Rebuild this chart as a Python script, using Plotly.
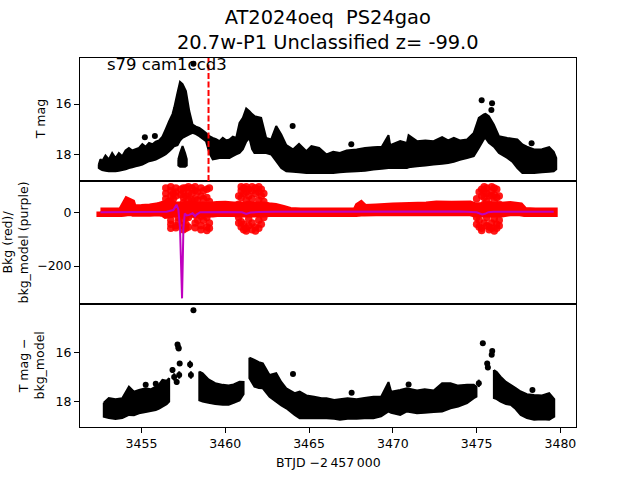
import plotly.graph_objects as go
from plotly.subplots import make_subplots

# ---------------- data ----------------
t_disc = 3459.0  # discovery epoch (red dashed line)

# top panel: T mag light curve envelope (bright edge / faint edge)
t_top = [3452.45, 3452.55, 3452.65, 3452.85, 3453.05, 3453.25, 3453.45, 3453.65, 3453.85, 3454.05,
         3454.25, 3454.45, 3454.65, 3454.85, 3455.05, 3455.25, 3455.45, 3455.65, 3455.85, 3456.05,
         3456.25, 3456.45, 3456.65, 3456.85, 3456.95, 3457.15, 3457.30, 3457.45, 3457.65, 3457.85,
         3458.05, 3458.25, 3458.45, 3458.65, 3458.85, 3459.05, 3459.25, 3459.45, 3459.65, 3459.85,
         3460.05, 3460.25, 3460.45, 3460.65, 3460.85, 3461.05, 3461.25, 3461.44, 3461.60, 3461.74,
         3462.14, 3462.44, 3462.74, 3463.04, 3463.34, 3463.64, 3464.04, 3464.40, 3464.84, 3465.14,
         3465.60, 3466.04, 3466.44, 3466.84, 3467.24, 3467.84, 3468.34, 3468.84, 3469.34, 3469.74,
         3469.84, 3470.44, 3470.84, 3470.94, 3471.44, 3471.94, 3472.43, 3472.94, 3473.30, 3473.64,
         3474.00, 3474.43, 3474.83, 3475.13, 3475.43, 3475.53, 3475.73, 3476.03, 3476.33, 3476.83,
         3477.13, 3477.43, 3477.73, 3478.00, 3478.43, 3478.90, 3479.33, 3479.60, 3479.75]
hi_top = [18.41, 18.20, 18.28, 18.05, 18.21, 17.95, 18.15, 17.95, 18.08, 17.85,
          17.75, 17.85, 17.80, 17.75, 17.60, 17.70, 17.55, 17.60, 17.50, 17.45,
          17.30, 17.00, 16.68, 16.40, 16.15, 15.55, 15.11, 15.20, 15.48, 16.28,
          16.82, 16.90, 16.95, 17.05, 17.15, 17.28, 17.35, 17.40, 17.48, 17.35,
          17.45, 17.41, 17.30, 17.35, 16.75, 16.55, 16.17, 16.28, 16.40, 16.48,
          16.55, 17.35, 17.41, 16.88, 17.21, 17.64, 17.81, 17.59, 17.88, 17.68,
          17.75, 18.01, 17.90, 17.95, 17.85, 17.81, 17.75, 17.72, 17.70, 17.24,
          17.64, 17.48, 17.55, 17.24, 17.48, 17.45, 17.48, 17.32, 17.45, 17.35,
          17.45, 17.41, 17.15, 16.55, 16.41, 16.39, 16.48, 16.82, 17.28, 17.35,
          17.38, 17.41, 17.61, 17.70, 17.81, 17.80, 17.72, 17.90, 18.15]
lo_top = [18.55, 18.60, 18.63, 18.66, 18.68, 18.68, 18.68, 18.66, 18.63, 18.60,
          18.55, 18.52, 18.48, 18.45, 18.41, 18.35, 18.28, 18.25, 18.21, 18.15,
          18.08, 18.00, 17.88, 17.75, 17.68, 17.64, 17.45, 17.35, 17.28, 17.21,
          17.15, 17.20, 17.28, 17.38, 17.48, 17.95, 18.21, 18.18, 18.15, 18.15,
          18.15, 18.15, 18.08, 18.01, 17.95, 17.80, 17.50, 17.35, 17.80, 17.95,
          17.95, 17.95, 18.01, 18.28, 18.55, 18.68, 18.70, 18.72, 18.75, 18.75,
          18.75, 18.75, 18.75, 18.72, 18.70, 18.68, 18.66, 18.61, 18.58, 18.55,
          18.55, 18.55, 18.55, 18.52, 18.48, 18.45, 18.41, 18.38, 18.35, 18.30,
          18.22, 18.15, 18.08, 17.75, 17.40, 17.35, 17.55, 17.70, 17.95, 18.15,
          18.30, 18.55, 18.75, 18.75, 18.75, 18.72, 18.70, 18.68, 18.60]

# faint population under the first peak
t_blob = [3457.20, 3457.30, 3457.45, 3457.60, 3457.70]
hi_blob = [18.20, 17.95, 17.68, 17.95, 18.20]
lo_blob = [18.45, 18.50, 18.50, 18.50, 18.45]

# isolated top-panel points
t_top_pt = [3455.20, 3455.80, 3458.10, 3464.02, 3467.52, 3475.30, 3475.88, 3475.92, 3478.28]
m_top_pt = [17.32, 17.27, 14.39, 16.87, 17.60, 15.85, 16.24, 15.97, 17.56]
e_top_pt = [0.05, 0.05, 0.04, 0.05, 0.05, 0.05, 0.06, 0.05, 0.05]

# middle panel: background (red) band
t_bkg = [3452.55, 3453.80, 3453.95, 3454.15, 3454.40, 3454.50, 3455.00, 3455.50, 3456.00, 3456.30,
         3456.45, 3457.00, 3457.50, 3458.00, 3458.50, 3459.25, 3459.50, 3460.00, 3460.50, 3460.85,
         3461.50, 3462.30, 3462.60, 3463.00, 3463.50, 3463.85, 3464.50, 3466.00, 3467.80, 3467.95,
         3468.10, 3468.30, 3469.00, 3470.00, 3471.00, 3472.00, 3472.60, 3473.50, 3474.60, 3474.90,
         3475.50, 3476.50, 3477.00, 3477.60, 3477.85, 3478.50, 3479.60]
hi_bkg = [3, 3, 20, 42, 35, 15, 16, 18, 22, 28,
          30, 25, 25, 25, 25, 25, 27, 28, 25, 25,
          25, 25, 22, 20, 12, 5, 3, 3, 3, 22,
          28, 16, 18, 21, 23, 25, 29, 28, 29, 22,
          22, 24, 27, 22, 5, 3, 3]
lo_bkg = [-3, -3, -2, 0, 0, -2, -2, -2, 0, -3,
          -10, -5, -5, -5, -5, -5, -3, -2, -3, -5,
          -5, -5, -3, -3, -3, -3, -3, -3, -3, -2,
          -1, -1, 0, 0, 0, 0, 0, 0, 0, -5,
          -5, -5, 0, 0, -3, -3, -3]

# background scatter bursts (columns of points)
burst_t = [3456.45, 3456.60, 3456.75, 3456.90, 3457.05, 3457.20, 3457.35, 3457.50, 3457.65, 3457.80,
           3458.00, 3458.20, 3458.35, 3458.55, 3458.70, 3458.90, 3459.05,
           3460.80, 3460.95, 3461.10, 3461.25, 3461.40, 3461.60, 3461.80, 3462.00, 3462.15, 3462.30,
           3475.00, 3475.15, 3475.30, 3475.45, 3475.60, 3475.75, 3475.90, 3476.05, 3476.20, 3476.35]
burst_v = [[90, 70, 50, 30], [40, 20], [95, 80, 60, 40, -30, -45, -60], [70, 50, 30],
           [90, 75, 60, -50, -58], [10, -20, -35], [85, 65],
           [90, 75, 55, 35, 15, -10, -30, -50, -65], [90, 60, 30, -20, -45, -60],
           [95, 70, 45, 20, -20, -55], [90, 70, 45, 30], [95, 80, 50, 25, -10, -40, -58],
           [75, 45, -30], [90, 60, 25, -15, -50, -65], [80, 50, -30],
           [85, 55, 20, -20, -55, -68], [90, 40, -40, -60],
           [60, 30, -20, -40], [95, 80, 55, -35, -55], [90, 70, -45, -65], [95, 75, 45, -60, -70],
           [85, 60, 30, -25, -50], [95, 80, 50, -40, -65], [90, 70, -55, -70],
           [95, 75, 45, -30, -60], [85, 60, -45], [70, 40, -20],
           [50, 20, -20, -45], [75, -30, -55], [85, 60, -60, -68], [95, 80, 55, 30, -40],
           [90, 70, 40, -20, -50], [60, 30, -55, -65], [95, 80, 60, -40, -60],
           [90, 65, 40, -25, -70], [85, 55, -45, -60], [60, 30, -30, -50]]

# background model (purple line)
t_model = [3452.55, 3453.50, 3454.50, 3455.50, 3456.50, 3456.90, 3457.09, 3457.20, 3457.30, 3457.42,
           3457.50, 3457.58, 3457.70, 3457.85, 3458.05, 3458.20, 3458.30, 3458.50, 3459.00, 3460.00,
           3461.00, 3461.25, 3461.50, 3462.00, 3463.00, 3465.00, 3468.00, 3470.00, 3472.00, 3474.00,
           3475.00, 3475.33, 3475.50, 3475.70, 3476.00, 3477.00, 3478.00, 3479.60]
v_model = [0, 0, 1, 1, 2, 8, 28, 10, -60, -320,
           -60, -5, -12, -10, -4, -15, -8, 0, 1, 1,
           0, -6, -1, 1, 2, 2, 3, 4, 4, 3,
           0, -8, -6, 0, 2, 3, 2, 2]

# bottom panel: T mag - bkg_model envelope (data gaps at bot_breaks)
t_bot = [3452.75, 3453.05, 3453.45, 3453.85, 3454.25, 3454.55, 3454.85, 3455.25, 3455.55, 3455.85,
         3456.05, 3456.25, 3456.50, 3456.65,
         3458.45, 3458.65, 3459.00, 3459.40, 3459.85, 3460.20, 3460.50, 3460.85, 3461.09,
         3461.44, 3461.74, 3462.00, 3462.24, 3462.64, 3463.04, 3463.34, 3463.64, 3464.14, 3464.44,
         3464.84, 3465.30, 3465.75,
         3466.04, 3466.50, 3466.84, 3467.30, 3467.84, 3468.30, 3468.84, 3469.30, 3469.74, 3469.90,
         3470.44, 3470.84, 3471.44, 3471.90, 3472.44, 3472.94, 3473.44, 3473.90, 3474.43, 3474.83,
         3474.99,
         3476.03, 3476.20, 3476.43, 3476.75, 3477.03, 3477.33, 3477.63, 3478.00, 3478.43, 3478.90,
         3479.33, 3479.63]
hi_bot = [18.05, 17.86, 17.90, 17.86, 17.39, 17.60, 17.53, 17.46, 17.50, 17.39,
          17.30, 17.12, 17.15, 17.05,
          16.78, 16.85, 17.10, 17.25, 17.32, 17.35, 17.30, 17.19, 17.20,
          16.22, 16.31, 16.40, 16.45, 16.92, 16.85, 17.20, 17.46, 17.66, 17.59,
          17.75, 17.80, 17.86,
          17.86, 17.93, 17.90, 17.86, 17.90, 17.85, 17.80, 17.80, 17.21, 17.60,
          17.53, 17.46, 17.55, 17.50, 17.55, 17.26, 17.26, 17.35, 17.32, 17.32,
          17.40,
          16.72, 16.80, 16.99, 17.20, 17.32, 17.45, 17.59, 17.70, 17.73, 17.75,
          17.66, 17.90]
lo_bot = [18.61, 18.67, 18.70, 18.67, 18.54, 18.55, 18.47, 18.42, 18.38, 18.34,
          18.28, 18.20, 18.10, 18.00,
          17.95, 18.00, 18.05, 18.10, 18.13, 18.13, 18.05, 17.95, 17.70,
          17.05, 17.39, 17.45, 17.46, 17.80, 18.00, 18.15, 18.27, 18.54, 18.67,
          18.67, 18.67, 18.67,
          18.67, 18.70, 18.74, 18.70, 18.70, 18.67, 18.67, 18.60, 18.40, 18.45,
          18.54, 18.40, 18.47, 18.45, 18.42, 18.40, 18.27, 18.20, 18.06, 17.86,
          17.80,
          17.86, 17.90, 18.00, 18.10, 18.13, 18.30, 18.54, 18.67, 18.74, 18.72,
          18.74, 18.61]
bot_breaks = [3457.5, 3461.3, 3475.5]

# isolated bottom-panel points with error bars
t_bot_pt = [3455.25, 3455.85, 3456.85, 3456.95, 3457.10, 3457.15, 3457.20, 3457.22, 3457.25, 3457.28,
            3457.90, 3457.95, 3458.10, 3464.04, 3467.54, 3470.94, 3475.13, 3475.37, 3475.63, 3475.67,
            3475.90, 3475.93, 3478.33]
m_bot_pt = [17.32, 17.28, 16.72, 17.00, 17.20, 15.68, 15.80, 15.85, 16.92, 16.45,
            16.49, 16.92, 14.29, 16.88, 17.64, 17.31, 17.26, 15.63, 16.45, 16.62,
            16.10, 15.95, 17.53]
e_bot_pt = [0.05, 0.05, 0.12, 0.15, 0.12, 0.05, 0.05, 0.05, 0.15, 0.10,
            0.15, 0.15, 0.04, 0.05, 0.06, 0.08, 0.15, 0.05, 0.10, 0.10,
            0.05, 0.05, 0.06]

x_ticks = [3455, 3460, 3465, 3470, 3475, 3480]
mag_ticks = [16, 18]
bkg_ticks = [-200, 0]
bkg_ticktext = ["\u2212200", "0"]

# ---------------- helpers ----------------
def band_segments(t, hi, lo, breaks=()):
    """Split an envelope into closed polygons at the given break times."""
    out = []
    start = 0
    for i in range(1, len(t) + 1):
        split = i == len(t) or any(t[i - 1] < b < t[i] for b in breaks)
        if split:
            seg_t = t[start:i]
            out.append((seg_t + seg_t[::-1] + [seg_t[0]],
                        hi[start:i] + lo[start:i][::-1] + [hi[start]]))
            start = i
    return out


FONT = "DejaVu Sans"
BLACK = "black"
PURPLE = "rgb(191,0,191)"

fig = make_subplots(rows=3, cols=1, shared_xaxes=True, vertical_spacing=0)


def add_band(t, hi, lo, color, width, row, breaks=()):
    for px, py in band_segments(t, hi, lo, breaks):
        fig.add_trace(go.Scatter(x=px, y=py, mode="lines", fill="toself", fillcolor=color,
                                 line=dict(color=color, width=width, simplify=False),
                                 hoverinfo="skip"), row=row, col=1)


# top panel
add_band(t_top, hi_top, lo_top, BLACK, 2, 1)
add_band(t_blob, hi_blob, lo_blob, BLACK, 2, 1)
fig.add_trace(go.Scatter(x=t_top_pt, y=m_top_pt, mode="markers",
                         marker=dict(color=BLACK, size=6),
                         error_y=dict(type="data", array=e_top_pt, color=BLACK, thickness=1.5, width=0)),
              row=1, col=1)

# middle panel
add_band(t_bkg, hi_bkg, lo_bkg, "red", 8, 2)
bt, bv = [], []
for tt, col in zip(burst_t, burst_v):
    for v in col:
        bt.append(tt)
        bv.append(v)
fig.add_trace(go.Scatter(x=bt, y=bv, mode="markers",
                         marker=dict(color="red", size=7.5, opacity=0.9)), row=2, col=1)
fig.add_trace(go.Scatter(x=t_model, y=v_model, mode="lines",
                         line=dict(color=PURPLE, width=2)), row=2, col=1)

# bottom panel
add_band(t_bot, hi_bot, lo_bot, BLACK, 2, 3, bot_breaks)
fig.add_trace(go.Scatter(x=t_bot_pt, y=m_bot_pt, mode="markers",
                         marker=dict(color=BLACK, size=6),
                         error_y=dict(type="data", array=e_bot_pt, color=BLACK, thickness=2, width=0)),
              row=3, col=1)

# discovery line (top panel only)
fig.add_shape(type="line", x0=t_disc, x1=t_disc, xref="x", yref="y domain", y0=0, y1=1,
              line=dict(color="red", width=2, dash="6px,2.5px"))

axis_common = dict(showline=True, mirror=True, linecolor=BLACK, linewidth=1,
                   showgrid=False, zeroline=False)
for r in (1, 2, 3):
    fig.update_xaxes(range=[3451.33, 3480.93], **axis_common, row=r, col=1)
fig.update_xaxes(ticks="", showticklabels=False, row=1, col=1)
fig.update_xaxes(ticks="", showticklabels=False, row=2, col=1)
fig.update_xaxes(ticks="outside", ticklen=5, tickwidth=1, tickcolor=BLACK,
                 tickvals=x_ticks, tickfont=dict(size=12.5, color=BLACK), row=3, col=1)

ytick = dict(ticks="outside", ticklen=5, tickwidth=1, tickcolor=BLACK,
             tickfont=dict(size=12.5, color=BLACK))
fig.update_yaxes(range=[19.07, 14.16], tickvals=mag_ticks, **ytick, **axis_common, row=1, col=1)
fig.update_yaxes(range=[-341, 116], tickvals=bkg_ticks, ticktext=bkg_ticktext, **ytick,
                 **axis_common, row=2, col=1)
fig.update_yaxes(range=[19.03, 14.04], tickvals=mag_ticks, **ytick, **axis_common, row=3, col=1)

annots = [
    dict(text="AT2024oeq\u00a0 PS24gao<br>20.7w-P1 Unclassified z= -99.0", x=0.5, y=1,
         xref="paper", yref="paper", xanchor="center", yanchor="bottom", yshift=2,
         font=dict(size=19.4)),
    dict(text="s79 cam1ccd3", x=0.05, y=0.948, xref="x domain", yref="y domain",
         xanchor="left", yanchor="middle", font=dict(size=16.5)),
    dict(text="T mag", x=-0.0806, y=0.8339, xref="paper", yref="paper", textangle=-90,
         xanchor="center", yanchor="middle", font=dict(size=12.5)),
    dict(text="Bkg (red)/<br>bkg_model (purple)", x=-0.131, y=0.5, xref="paper", yref="paper",
         textangle=-90, xanchor="center", yanchor="middle", font=dict(size=12.5)),
    dict(text="T mag \u2212<br>bkg_model", x=-0.0988, y=0.1667, xref="paper", yref="paper",
         textangle=-90, xanchor="center", yanchor="middle", font=dict(size=12.5)),
    dict(text="BTJD \u22122\u2009457\u2009000", x=0.5, y=-0.0969, xref="paper", yref="paper",
         xanchor="center", yanchor="middle", font=dict(size=12.5)),
]
for a in annots:
    a["showarrow"] = False
    fig.add_annotation(**a)

fig.update_layout(width=640, height=480, margin=dict(l=80, r=64, t=57.6, b=52.8),
                  paper_bgcolor="white", plot_bgcolor="white", showlegend=False,
                  font=dict(family=FONT, size=12.5, color=BLACK))

fig.write_html("out.html", config={"displayModeBar": False},
               post_script="document.body.style.margin='0';")
